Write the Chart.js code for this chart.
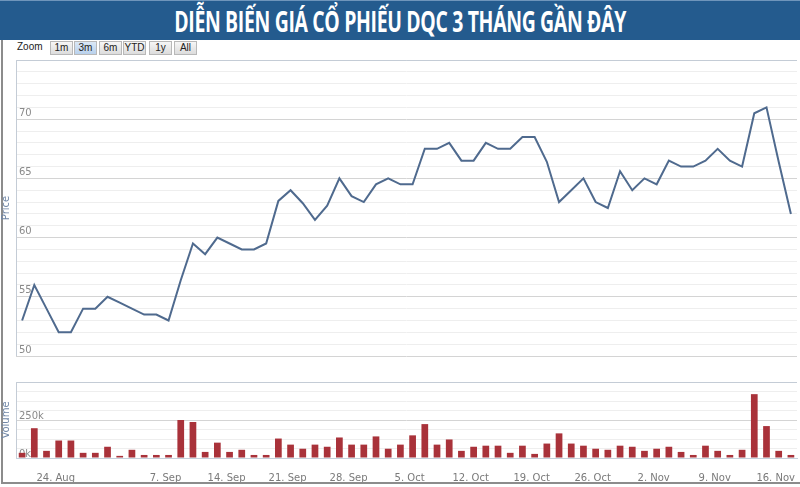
<!DOCTYPE html>
<html>
<head>
<meta charset="utf-8">
<script src="https://cdn.jsdelivr.net/npm/chart.js@4.4.1/dist/chart.umd.min.js"></script>
<style>
  body { margin: 0; width: 800px; height: 487px; background: #fff; position: relative; overflow: hidden; font-family: 'DejaVu Sans', sans-serif; }
  #banner { position: absolute; left: 0; top: 0; width: 800px; height: 39px; background: #245b8e; border-top: 1px solid #6f95bb;
    color: #fff; text-align: center; line-height: 40px; }
  #banner span { display: inline-block; font-size: 29px; font-weight: bold; font-family: 'Open Sans', 'DejaVu Sans', sans-serif;
    transform: scaleX(0.67); white-space: nowrap; letter-spacing: -0.5px; }
  #frame { position: absolute; left: 1px; top: 40px; width: 797px; height: 442px; border-left: 2px solid #8c8c8c; border-bottom: 2px solid #8c8c8c; }
  #zoomBar { position: absolute; left: 17px; top: 41px; height: 14px; font-size: 10px; color: #222;
    font-family: 'Liberation Sans', sans-serif; }
  #zoomBar span { position: absolute; top: 0; height: 12px; line-height: 12px; text-align: center; }
  #zoomBar .btn { border: 1px solid #b8b8b8; background: linear-gradient(#f6f6f6, #dcdcdc); width: 21px; }
  #zoomBar .on { background: linear-gradient(#dbe8f6, #b9d1ec); }
  canvas { position: absolute; left: 0; }
  #priceChart { top: 58px; }
  #volChart { top: 380px; }
</style>
</head>
<body>
<div id="banner"><span>DIỄN BIẾN GIÁ CỔ PHIẾU DQC 3 THÁNG GẦN ĐÂY</span></div>
<div id="frame"></div>
<div id="zoomBar">
  <span style="left:0">Zoom</span>
  <span class="btn" style="left:33px">1m</span>
  <span class="btn on" style="left:57px">3m</span>
  <span class="btn" style="left:82px">6m</span>
  <span class="btn" style="left:106px">YTD</span>
  <span class="btn" style="left:132px">1y</span>
  <span class="btn" style="left:157px">All</span>
</div>
<canvas id="priceChart" width="800" height="300"></canvas>
<canvas id="volChart" width="800" height="105"></canvas>
<script>
const dates = [
  '19. Aug', '20. Aug', '21. Aug', '24. Aug', '25. Aug', '26. Aug', '27. Aug', '28. Aug', '31. Aug',
  '1. Sep', '3. Sep', '4. Sep', '7. Sep', '8. Sep', '9. Sep', '10. Sep', '11. Sep', '14. Sep', '15. Sep',
  '16. Sep', '17. Sep', '18. Sep', '21. Sep', '22. Sep', '23. Sep', '24. Sep', '25. Sep', '28. Sep',
  '29. Sep', '30. Sep', '1. Oct', '2. Oct', '5. Oct', '6. Oct', '7. Oct', '8. Oct', '9. Oct', '12. Oct',
  '13. Oct', '14. Oct', '15. Oct', '16. Oct', '19. Oct', '20. Oct', '21. Oct', '22. Oct', '23. Oct',
  '26. Oct', '27. Oct', '28. Oct', '29. Oct', '30. Oct', '2. Nov', '3. Nov', '4. Nov', '5. Nov', '6. Nov',
  '9. Nov', '10. Nov', '11. Nov', '12. Nov', '13. Nov', '16. Nov', '17. Nov'
];
const tickLabels = ['24. Aug', '7. Sep', '14. Sep', '21. Sep', '28. Sep', '5. Oct', '12. Oct',
  '19. Oct', '26. Oct', '2. Nov', '9. Nov', '16. Nov'];

const price = [
  53.0, 56.0, 54.0, 52.0, 52.0, 54.0, 54.0, 55.0, 54.5, 54.0,
  53.5, 53.5, 53.0, 56.4, 59.5, 58.6, 60.0, 59.5, 59.0, 59.0,
  59.5, 63.1, 64.0, 62.9, 61.5, 62.7, 65.0, 63.5, 63.0, 64.5,
  65.0, 64.5, 64.5, 67.5, 67.5, 68.0, 66.5, 66.5, 68.0, 67.5,
  67.5, 68.5, 68.5, 66.4, 63.0, 64.0, 65.0, 63.0, 62.5, 65.6,
  64.0, 65.0, 64.5, 66.5, 66.0, 66.0, 66.5, 67.5, 66.5, 66.0,
  70.5, 71.0, 66.4, 62.0
];
// volume in thousands of shares
const volumeK = [
  34, 196, 47, 115, 115, 34, 34, 74, 14, 54,
  20, 20, 20, 250, 237, 40, 101, 40, 54, 20,
  20, 128, 88, 61, 88, 74, 135, 88, 88, 142,
  61, 88, 149, 223, 88, 122, 47, 74, 81, 81,
  34, 81, 27, 95, 162, 95, 81, 61, 54, 81,
  74, 47, 61, 74, 40, 20, 81, 47, 20, 54,
  420, 210, 47, 20
];
const priceTicks = [50, 55, 60, 65, 70];
const volumeTicks = [0, 250];

Chart.defaults.font.family = "'DejaVu Sans', sans-serif";
Chart.defaults.animation = false;

// thin border on top and left of each pane
const paneBorder = {
  id: 'paneBorder',
  beforeDatasetsDraw(chart) {
    const { ctx, chartArea: a } = chart;
    ctx.save();
    ctx.strokeStyle = '#c4ccd6';
    ctx.lineWidth = 1;
    ctx.beginPath();
    ctx.moveTo(a.left + 0.5, a.bottom);
    ctx.lineTo(a.left + 0.5, a.top + 0.5);
    ctx.lineTo(a.right, a.top + 0.5);
    ctx.stroke();
    ctx.restore();
  }
};

// y axis sits at the left edge, labels drawn inside the pane
const fitY = s => { s.width = 16; s.paddingTop = 0; s.paddingBottom = 0; };

new Chart(document.getElementById('priceChart'), {
  type: 'line',
  data: {
    labels: dates,
    datasets: [{
      data: price,
      borderColor: '#4f6a8e',
      borderWidth: 2,
      pointRadius: 0,
      tension: 0
    }]
  },
  options: {
    responsive: false,
    layout: { padding: { top: 2, bottom: 2, left: 0, right: 3 } },
    plugins: { legend: { display: false }, tooltip: { enabled: false } },
    scales: {
      x: { display: false, offset: true },
      y: {
        min: 50, max: 75,
        afterFit: fitY,
        border: { display: false },
        title: { display: true, text: 'Price', color: '#6f86a6', font: { size: 10 }, padding: 0 },
        grid: { drawTicks: false, color: c => c.tick.value % 5 === 0 ? '#d4d4d4' : '#eeeeee' },
        ticks: {
          stepSize: 1, autoSkip: false, mirror: true, padding: 3, labelOffset: -6,
          color: '#8a8a8a', font: { size: 10 },
          callback: v => priceTicks.includes(v) ? v : ''
        }
      }
    }
  },
  plugins: [paneBorder]
});

new Chart(document.getElementById('volChart'), {
  type: 'bar',
  data: {
    labels: dates,
    datasets: [{
      data: volumeK,
      backgroundColor: '#a9323a',
      barPercentage: 0.55,
      categoryPercentage: 1
    }]
  },
  options: {
    responsive: false,
    layout: { padding: { top: 2, bottom: 3, left: 0, right: 3 } },
    plugins: { legend: { display: false }, tooltip: { enabled: false } },
    scales: {
      x: {
        offset: true,
        afterFit: s => { s.height = 24; s.paddingLeft = 0; s.paddingRight = 0; },
        grid: { display: false },
        border: { color: '#c4d0dc' },
        ticks: {
          autoSkip: false, maxRotation: 0, padding: 6, labelOffset: -3,
          color: '#7a7a7a', font: { size: 10 },
          callback: (v, i) => tickLabels.includes(dates[i]) ? dates[i] : ''
        }
      },
      y: {
        min: 0, max: 500,
        afterFit: fitY,
        border: { display: false },
        title: { display: true, text: 'Volume', color: '#6f86a6', font: { size: 10 }, padding: 0 },
        grid: { drawTicks: false, color: c => c.tick.value % 250 === 0 ? '#d4d4d4' : '#eeeeee' },
        ticks: {
          stepSize: 62.5, autoSkip: false, mirror: true, padding: 3, labelOffset: -4,
          color: '#8a8a8a', font: { size: 10 },
          callback: v => volumeTicks.includes(v) ? v + 'k' : ''
        }
      }
    }
  },
  plugins: [paneBorder]
});
</script>
</body>
</html>
